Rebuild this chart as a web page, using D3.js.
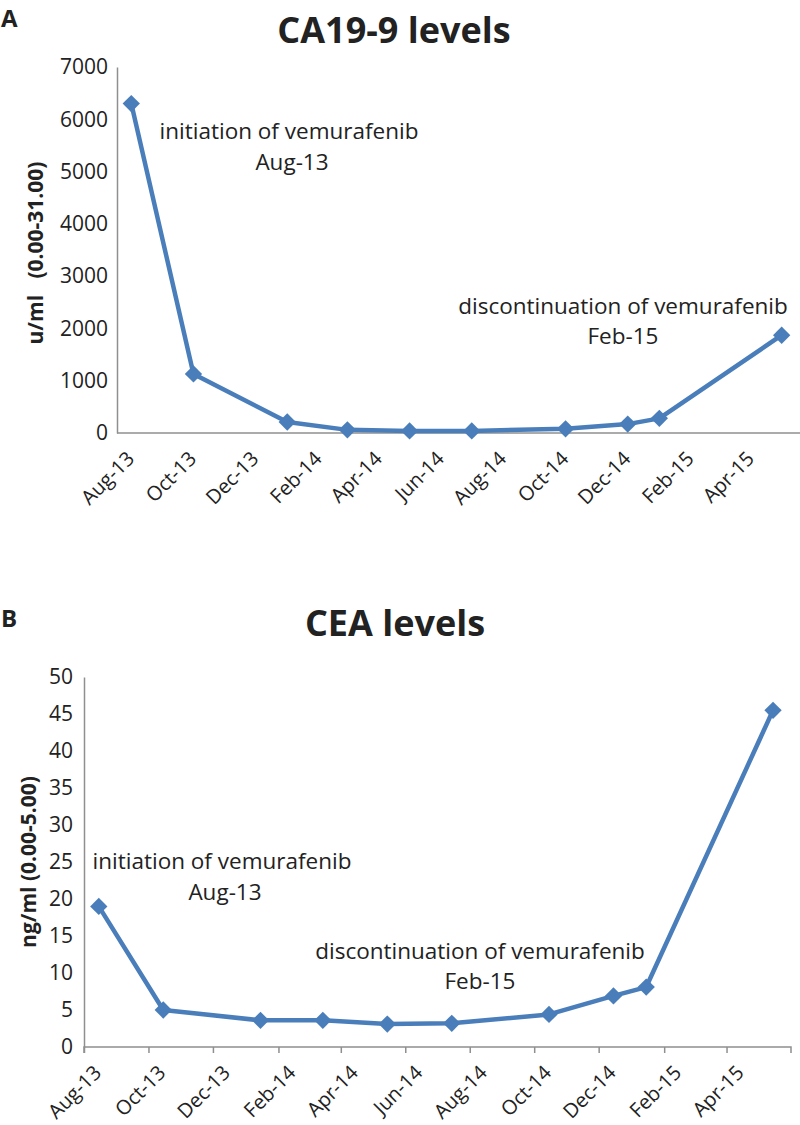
<!DOCTYPE html>
<html>
<head>
<meta charset="utf-8">
<script src="https://cdn.jsdelivr.net/npm/d3@7/dist/d3.min.js"></script>
<style>
  html, body { margin: 0; padding: 0; background: #fff; }
  svg { display: block; }
  text { font-family: "Open Sans", "DejaVu Sans", sans-serif; fill: #222; }
</style>
</head>
<body>
<svg id="chart" width="800" height="1125"></svg>
<script>
// ---- Data ----
const sampleDates = ["2013-08-15", "2013-10-15", "2014-01-15", "2014-03-15", "2014-05-15",
                     "2014-07-15", "2014-10-15", "2014-12-15", "2015-01-15", "2015-05-15"];
const ca199Values = [6300, 1130, 210, 60, 40, 40, 80, 170, 280, 1870];
const ceaValues   = [19, 5, 3.6, 3.6, 3.1, 3.2, 4.4, 6.9, 8.1, 45.5];
const tickDates = ["2013-08-01", "2013-10-01", "2013-12-01", "2014-02-01", "2014-04-01", "2014-06-01",
                   "2014-08-01", "2014-10-01", "2014-12-01", "2015-02-01", "2015-04-01"];
const xDomain = ["2013-08-01", "2015-06-01"];
const ca199Ticks = [0, 1000, 2000, 3000, 4000, 5000, 6000, 7000];
const ceaTicks = [0, 5, 10, 15, 20, 25, 30, 35, 40, 45, 50];

const parse = d3.timeParse("%Y-%m-%d");
const fmt = d3.timeFormat("%b-%y");
const svg = d3.select("#chart");
const BLUE = "#4A7EBB";
const AXIS = "#8f8f8f";

function drawPanel(cfg) {
  const x = d3.scaleTime().domain(xDomain.map(parse)).range([cfg.left, cfg.right]);
  const y = d3.scaleLinear().domain(cfg.yDomain).range([cfg.bottom, cfg.top]);
  const g = svg.append("g");

  // y axis
  const ya = g.append("g").attr("transform", `translate(${cfg.left},0)`)
    .call(d3.axisLeft(y).tickValues(cfg.yTicks).tickSize(0).tickPadding(cfg.yPad).tickFormat(d3.format("d")));
  ya.select(".domain").attr("stroke", AXIS).attr("stroke-width", 1.5);
  ya.selectAll("text").attr("font-size", cfg.tickFont).attr("fill", "#222").attr("font-family", "Open Sans");

  // x axis
  const xa = g.append("g").attr("transform", `translate(0,${cfg.bottom})`)
    .call(d3.axisBottom(x).tickValues(tickDates.map(parse)).tickSize(cfg.xTickSize).tickSizeOuter(cfg.xTickSize).tickFormat(fmt));
  xa.select(".domain").attr("stroke", AXIS).attr("stroke-width", 1.5)
    .attr("d", `M${cfg.left},${cfg.xTickSize}V0H${cfg.axisEnd}` + (cfg.xTickSize ? `V${cfg.xTickSize}` : ""));
  xa.selectAll(".tick line").attr("stroke", AXIS).attr("stroke-width", 1.5);
  xa.selectAll("text")
    .attr("font-size", cfg.xFont).attr("fill", "#222").attr("font-family", "Open Sans")
    .attr("text-anchor", "end")
    .attr("y", 0).attr("dy", 0)
    .attr("transform", "translate(18,27) rotate(-45)");

  // line
  const pts = sampleDates.map((d, i) => ({ date: parse(d), v: cfg.values[i] }));
  g.append("path").datum(pts)
    .attr("fill", "none").attr("stroke", BLUE).attr("stroke-width", 4.5).attr("stroke-linejoin", "round")
    .attr("d", d3.line().x(d => x(d.date)).y(d => y(d.v)));
  g.selectAll(".mk").data(pts).enter().append("path")
    .attr("d", d3.symbol().type(d3.symbolSquare).size(150))
    .attr("fill", BLUE)
    .attr("transform", d => `translate(${x(d.date)},${y(d.v)}) rotate(45)`);

  // titles
  g.append("text").attr("x", cfg.titleX).attr("y", cfg.titleY).attr("text-anchor", "middle")
    .attr("font-size", 36).attr("font-weight", "bold").text(cfg.title);
  g.append("text").attr("x", 1).attr("y", cfg.letterY).attr("font-size", 24).attr("font-weight", "bold").text(cfg.letter);
  g.append("text").attr("transform", `translate(${cfg.yTitleX},${cfg.yTitleY}) rotate(-90)`)
    .attr("text-anchor", "middle").attr("font-size", 21).attr("font-weight", "bold")
    .attr("xml:space", "preserve").style("white-space", "pre").text(cfg.yTitle);

  // annotations
  cfg.notes.forEach(n => {
    g.append("text").attr("x", n.x).attr("y", n.y).attr("text-anchor", "middle")
      .attr("font-size", 22.5).text(n.text);
  });
}

drawPanel({
  left: 117, right: 799, axisEnd: 800, top: 67, bottom: 433,
  yDomain: [0, 7000], yTicks: ca199Ticks, values: ca199Values, yPad: 9, xTickSize: 0, tickFont: 21, xFont: 20,
  title: "CA19-9 levels", titleX: 394, titleY: 43, letter: "A", letterY: 27,
  yTitle: "u/ml   (0.00-31.00)", yTitleX: 43, yTitleY: 253,
  notes: [
    { x: 289, y: 139, text: "initiation of vemurafenib" },
    { x: 292, y: 170, text: "Aug-13" },
    { x: 623, y: 314, text: "discontinuation of vemurafenib" },
    { x: 623, y: 344, text: "Feb-15" }
  ]
});

drawPanel({
  left: 84, right: 791, axisEnd: 791, top: 677, bottom: 1047,
  yDomain: [0, 50], yTicks: ceaTicks, values: ceaValues, yPad: 11, xTickSize: 6, tickFont: 21, xFont: 20,
  title: "CEA levels", titleX: 395, titleY: 636, letter: "B", letterY: 627,
  yTitle: "ng/ml (0.00-5.00)", yTitleX: 36, yTitleY: 862,
  notes: [
    { x: 222, y: 869, text: "initiation of vemurafenib" },
    { x: 225, y: 900, text: "Aug-13" },
    { x: 480, y: 959, text: "discontinuation of vemurafenib" },
    { x: 480, y: 989, text: "Feb-15" }
  ]
});
</script>
</body>
</html>
